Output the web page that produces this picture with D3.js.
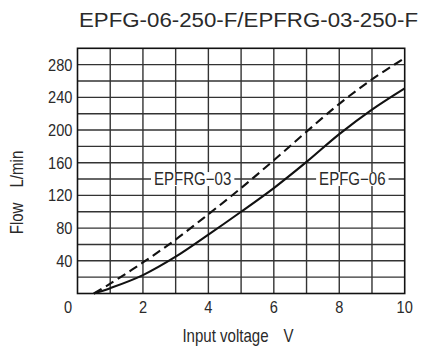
<!DOCTYPE html>
<html><head><meta charset="utf-8">
<script src="https://cdn.jsdelivr.net/npm/d3@7"></script>
<style>
html,body{margin:0;padding:0;background:#fff;}
svg{display:block;}
text{font-family:"Liberation Sans",Arial,sans-serif;fill:#2a2a2a;}
</style></head>
<body>
<svg id="chart" width="422" height="351"></svg>
<script>
const title = "EPFG-06-250-F/EPFRG-03-250-F";
const voltage = [0.5, 1, 2, 3, 4, 5, 6, 7, 8, 9, 10];
const flowEPFG06 = [0, 6.5, 22.5, 45, 72, 100, 129, 161, 195, 225, 251];
const flowEPFRG03 = [0, 12, 38, 66, 97, 129, 163, 198, 232, 262, 288];
const xTicks = [0, 2, 4, 6, 8, 10];
const yTicks = [40, 80, 120, 160, 200, 240, 280];
const seriesLabels = ["EPFRG−03", "EPFG−06"];
const xLabel = "Input voltage\u2003V";
const yLabel = "Flow\u2003L/min";

const svg = d3.select("#chart");
const L = 77.5, R = 404.7, T = 48.3, B = 293.5;
const x = d3.scaleLinear().domain([0, 10]).range([L, R]);
const y = d3.scaleLinear().domain([0, 300]).range([B, T]);
const narrow = 0.86;

function condText(sel, px, py, str, size, anchor) {
  return sel.append("text")
    .attr("transform", `translate(${px},${py}) scale(${narrow},1)`)
    .attr("text-anchor", anchor).attr("font-size", size).text(str);
}

// grid
const g = svg.append("g");
g.selectAll("line.v").data(d3.range(1, 10)).join("line")
  .attr("x1", d => x(d)).attr("x2", d => x(d)).attr("y1", T).attr("y2", B)
  .attr("stroke", "#333").attr("stroke-width", 1.4);
g.selectAll("line.h").data(d3.range(20, 300, 20)).join("line")
  .attr("y1", d => y(d)).attr("y2", d => y(d)).attr("x1", L).attr("x2", R)
  .attr("stroke", "#333").attr("stroke-width", 1.4);

// label boxes on the 140 grid line
const labelPos = [[3.52, 140], [8.4, 140]];
const lab = svg.append("g");
labelPos.forEach((p, i) => {
  const t = condText(lab, x(p[0]), y(p[1]) + 6, seriesLabels[i], 17.5, "middle");
  const w = t.node().getBBox().width * narrow;
  lab.insert("rect", "text").attr("x", x(p[0]) - w / 2 - 3).attr("y", y(p[1]) - 7)
    .attr("width", w + 6).attr("height", 14).attr("fill", "#fff");
});

// border
svg.append("rect").attr("x", L).attr("y", T).attr("width", R - L).attr("height", B - T)
  .attr("fill", "none").attr("stroke", "#111").attr("stroke-width", 1.6);

// curves
const line = d3.line().x((d, i) => x(voltage[i])).y(d => y(d)).curve(d3.curveCatmullRom.alpha(0.5));
svg.append("path").attr("d", line(flowEPFG06)).attr("fill", "none")
  .attr("stroke", "#111").attr("stroke-width", 2.1);
svg.append("path").attr("d", line(flowEPFRG03)).attr("fill", "none")
  .attr("stroke", "#111").attr("stroke-width", 2.1).attr("stroke-dasharray", "9,5");

// axes ticks
const yt = svg.append("g");
yTicks.forEach(d => condText(yt, L - 5, y(d) + 6, d, 17, "end"));
const xt = svg.append("g");
xTicks.forEach(d => condText(xt, x(d) - (d === 0 ? 9.5 : 0), 313, d, 17, "middle"));

// axis titles
condText(svg, 238, 342, xLabel, 17.5, "middle");
svg.append("text").attr("transform", `translate(23,192.5) rotate(-90) scale(${narrow},1)`)
  .attr("text-anchor", "middle").attr("font-size", 17.5).text(yLabel);

// title
svg.append("text").attr("x", 79).attr("y", 27.3).attr("font-size", 20.5)
  .attr("textLength", 339).attr("lengthAdjust", "spacingAndGlyphs").text(title);
</script>
</body></html>
